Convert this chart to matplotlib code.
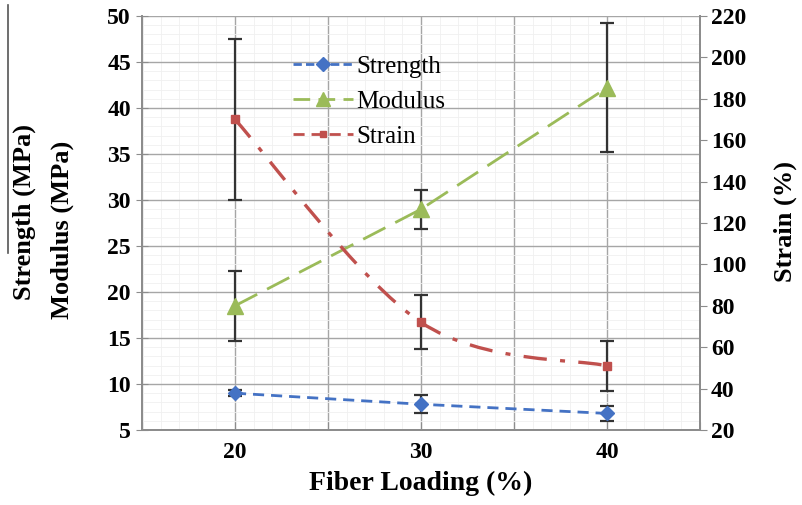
import numpy as np
import matplotlib
matplotlib.use("Agg")
import matplotlib.pyplot as plt
from matplotlib.path import Path
from matplotlib.patches import PathPatch
from matplotlib.lines import Line2D
from matplotlib.ticker import MultipleLocator

plt.rcParams['font.family'] = ['Liberation Serif', 'DejaVu Serif']

# data
loading = [20, 30, 40]
strength = [9.0, 7.8, 6.8]
strength_err = [0.3, 1.0, 0.8]
modulus = [18.5, 29.0, 42.2]
modulus_err = [3.8, 2.1, 7.0]
strain = [170, 72, 51]
strain_err = [39, 13, 12]

c_str = '#4472C4'
c_mod = '#9BBB59'
c_stn = '#C0504D'


def smooth_path(xs, ys):
    # excel style smoothed line as cubic bezier segments
    pts = np.column_stack([xs, ys]).astype(float)
    n = len(pts)
    verts = [pts[0]]
    codes = [Path.MOVETO]
    for i in range(n - 1):
        p_prev = pts[i - 1] if i > 0 else pts[i]
        p_next = pts[i + 2] if i + 2 < n else pts[i + 1]
        c1 = pts[i] + (pts[i + 1] - p_prev) / 6
        c2 = pts[i + 1] - (p_next - pts[i]) / 6
        verts += [c1, c2, pts[i + 1]]
        codes += [Path.CURVE4] * 3
    return Path(verts, codes)


fig = plt.figure(figsize=(8.02, 5.05), dpi=100)
ax = fig.add_axes([142/802, 75/505, 558/802, 414/505])
ax2 = ax.twinx()

ax.set_xlim(15, 45)
ax.set_ylim(5, 50)
ax2.set_ylim(20, 220)

ax.xaxis.set_major_locator(MultipleLocator(5))
ax.xaxis.set_minor_locator(MultipleLocator(1))
ax.yaxis.set_major_locator(MultipleLocator(5))
ax.yaxis.set_minor_locator(MultipleLocator(1))
ax.set_xticklabels(['' if v % 10 else str(int(v)) for v in ax.get_xticks()])
ax2.yaxis.set_major_locator(MultipleLocator(20))

ax.grid(True, which='minor', color='#f0f0f0', lw=0.6, zorder=0)
ax.grid(True, which='major', color='#a6a6a6', lw=1.0)
ax.set_axisbelow(True)

for a in (ax, ax2):
    a.spines['top'].set_visible(False)
    for s in ('left', 'right', 'bottom'):
        a.spines[s].set_color('#8c8c8c')
        a.spines[s].set_linewidth(1.3)
ax.tick_params(axis='y', which='major', direction='inout', length=8, color='#8c8c8c',
               labelsize=17, pad=4)
ax.tick_params(axis='x', which='major', direction='in', length=6, color='#8c8c8c',
               labelsize=17, pad=9)
ax.tick_params(which='minor', length=0)
ax2.tick_params(axis='y', direction='out', length=5, color='#8c8c8c', labelsize=17, pad=3)
for lab in ax.get_xticklabels() + ax.get_yticklabels() + ax2.get_yticklabels():
    lab.set_fontweight('bold')

ax.errorbar(loading, strength, yerr=strength_err, color=c_str, ls=(0, (4, 2.5)), lw=2,
            marker='D', ms=7, ecolor='#333333', elinewidth=1.6, capsize=5, capthick=1.6)
ax.errorbar(loading, modulus, yerr=modulus_err, color=c_mod, ls=(0, (9, 4)), lw=2,
            marker='^', ms=11, ecolor='#333333', elinewidth=1.6, capsize=5, capthick=1.6)
ax2.errorbar(loading, strain, yerr=strain_err, color=c_stn, ls='none',
             marker='s', ms=6, ecolor='#333333', elinewidth=1.6, capsize=5, capthick=1.6)
ax2.add_patch(PathPatch(smooth_path(loading, strain), fill=False, edgecolor=c_stn,
                        lw=2.4, ls=(0, (7, 4, 1.5, 4))))

handles = [
    Line2D([], [], color=c_str, ls=(0, (3, 1.5)), lw=2, marker='D', ms=7),
    Line2D([], [], color=c_mod, ls=(0, (6, 3)), lw=2, marker='^', ms=10),
    Line2D([], [], color=c_stn, ls=(0, (4, 2.5)), lw=2, marker='s', ms=5),
]
ax.legend(handles, ['Strength', 'Modulus', 'Strain'], loc='upper left',
          bbox_to_anchor=(0.23, 0.96), frameon=False, fontsize=18,
          handlelength=2.4, handletextpad=0.15, labelspacing=0.5)

ax.set_xlabel('Fiber Loading (%)', fontsize=20, fontweight='bold', labelpad=5)
fig.text(24/802, 1 - 212/505, 'Strength (MPa)', rotation=90, ha='center', va='center',
         fontsize=19, fontweight='bold')
fig.text(62/802, 1 - 230/505, 'Modulus (MPa)', rotation=90, ha='center', va='center',
         fontsize=19, fontweight='bold')
fig.text(785/802, 1 - 222/505, 'Strain (%)', rotation=90, ha='center', va='center',
         fontsize=19, fontweight='bold')
fig.add_artist(Line2D([8/802, 8/802], [1 - 5/505, 1 - 253/505], color='#555555', lw=1.2))

fig.savefig('out.png', dpi=100)
